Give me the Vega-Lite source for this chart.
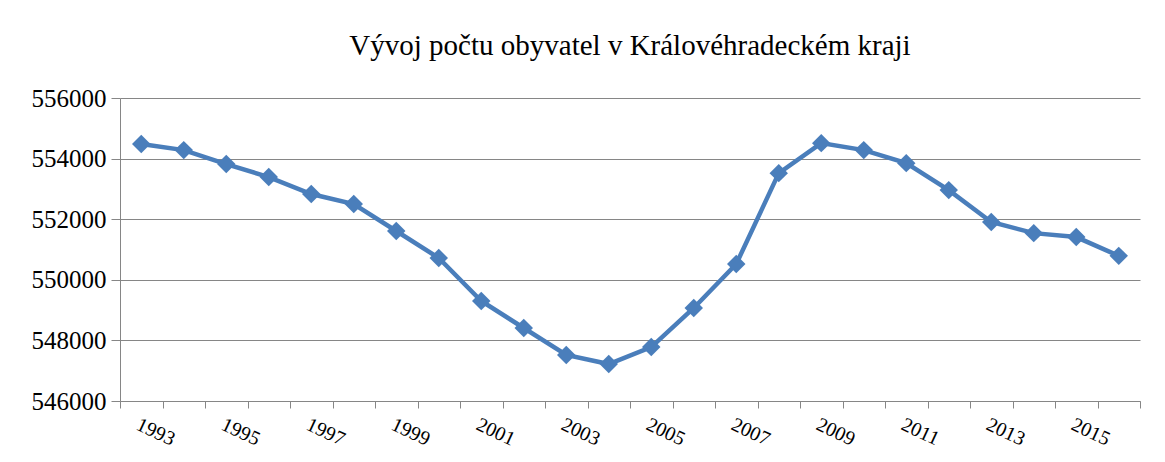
{
  "$schema": "https://vega.github.io/schema/vega-lite/v6.json",
  "width": 1020,
  "height": 303,
  "autosize": {"type": "none"},
  "padding": {"left": 120, "top": 98, "right": 25, "bottom": 61},
  "background": "white",
  "title": {
    "text": "Vývoj počtu obyvatel v Královéhradeckém kraji",
    "font": "Liberation Serif, DejaVu Serif, serif",
    "fontSize": 29,
    "fontWeight": "normal",
    "color": "#000000",
    "anchor": "middle",
    "baseline": "alphabetic",
    "offset": 2
  },
  "data": {
    "values": [
      {"year": 1993, "population": 554480},
      {"year": 1994, "population": 554280},
      {"year": 1995, "population": 553820},
      {"year": 1996, "population": 553390},
      {"year": 1997, "population": 552830},
      {"year": 1998, "population": 552500},
      {"year": 1999, "population": 551610},
      {"year": 2000, "population": 550720},
      {"year": 2001, "population": 549300},
      {"year": 2002, "population": 548410},
      {"year": 2003, "population": 547520},
      {"year": 2004, "population": 547220},
      {"year": 2005, "population": 547780},
      {"year": 2006, "population": 549070},
      {"year": 2007, "population": 550520},
      {"year": 2008, "population": 553520},
      {"year": 2009, "population": 554510},
      {"year": 2010, "population": 554280},
      {"year": 2011, "population": 553850},
      {"year": 2012, "population": 552960},
      {"year": 2013, "population": 551910},
      {"year": 2014, "population": 551540},
      {"year": 2015, "population": 551410},
      {"year": 2016, "population": 550790}
    ]
  },
  "mark": {
    "type": "line",
    "color": "#4A7EBB",
    "strokeWidth": 4.5,
    "point": {"shape": "diamond", "size": 340, "filled": true, "color": "#4A7EBB", "opacity": 1}
  },
  "encoding": {
    "x": {
      "field": "year",
      "type": "ordinal",
      "scale": {"type": "band", "paddingInner": 0, "paddingOuter": 0},
      "axis": {
        "title": null,
        "labelExpr": "datum.value % 2 == 1 ? datum.label : ''",
        "labelAngle": 25,
        "labelAlign": "left",
        "labelBaseline": "top",
        "labelFont": "Liberation Serif, DejaVu Serif, serif",
        "labelFontSize": 20,
        "labelColor": "#000000",
        "labelPadding": 6,
        "labelOverlap": false,
        "tickBand": "extent",
        "tickSize": 7,
        "tickColor": "#868686",
        "domainColor": "#868686",
        "grid": false
      }
    },
    "y": {
      "field": "population",
      "type": "quantitative",
      "scale": {"domain": [546000, 556000], "zero": false, "nice": false},
      "axis": {
        "title": null,
        "values": [546000, 548000, 550000, 552000, 554000, 556000],
        "format": "d",
        "labelFont": "Liberation Serif, DejaVu Serif, serif",
        "labelFontSize": 25,
        "labelColor": "#000000",
        "labelPadding": 5,
        "tickSize": 9,
        "tickColor": "#868686",
        "domainColor": "#868686",
        "gridColor": "#868686",
        "gridOpacity": 1,
        "labelOverlap": false
      }
    }
  },
  "config": {"view": {"stroke": null}}
}
